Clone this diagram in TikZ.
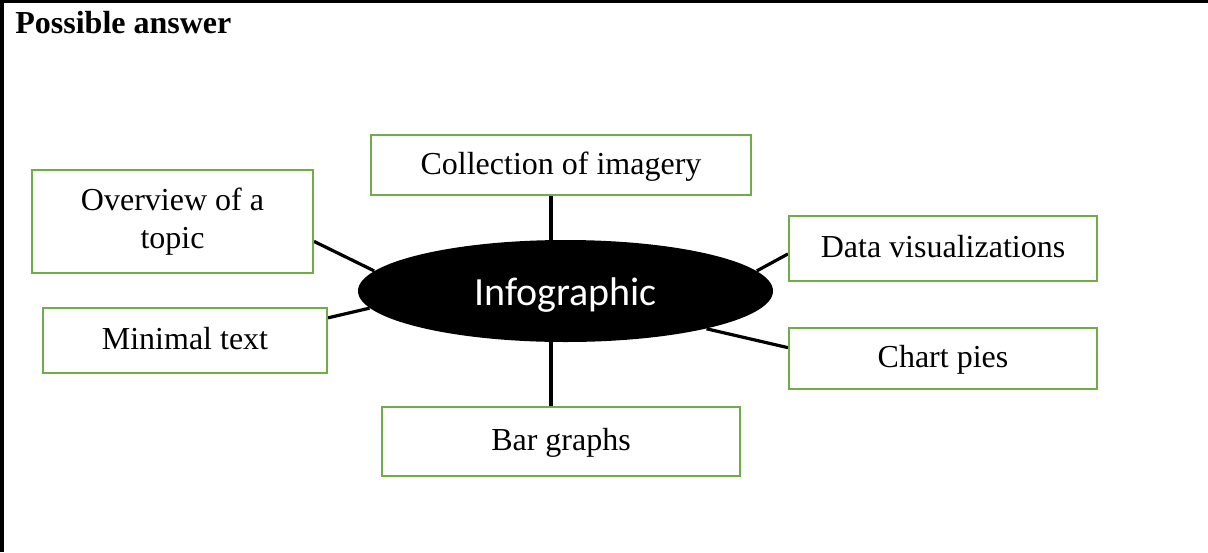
\documentclass[tikz,border=0pt]{standalone}
\usepackage{fontspec}
\setmainfont{Liberation Serif}
\newfontfamily\hubfont{Carlito}
\usepackage{tikz}
\usetikzlibrary{shapes.geometric,backgrounds}
\definecolor{boxgreen}{HTML}{70AD47}

\begin{document}
\begin{tikzpicture}[x=0.5pt,y=-0.5pt,
  topicbox/.style={draw=boxgreen,line width=1pt,align=center,font=\fontsize{16}{19}\selectfont},
  oneline/.style={text height=11.5pt,text depth=2.5pt},
  spoke/.style={line width=1.6pt}]

\useasboundingbox (0,0) rectangle (1208,552);

%Frame and heading
\draw[line width=1.75pt] (2,552) -- (2,1.5) -- (1208,1.5);
\node[anchor=base west,inner sep=0pt,font=\bfseries\fontsize{16}{19}\selectfont] (title) at (15,33) {Possible answer};

%Central ellipse
\node[ellipse,fill=black,minimum width=207.5pt,minimum height=51pt,text=white,text height=14pt,text depth=0pt,font=\hubfont\fontsize{20}{24}\selectfont] (info) at (565.5,291) {Infographic};

%Topic boxes
\node[topicbox,oneline,minimum width=190pt,minimum height=30pt] (collect) at (561,165) {Collection of imagery};
\node[topicbox,minimum width=140.5pt,minimum height=51.5pt] (overview) at (172.5,221.5) {Overview of a\\topic};
\node[topicbox,oneline,minimum width=142pt,minimum height=32.5pt] (minimal) at (185,340.5) {Minimal text};
\node[topicbox,oneline,minimum width=154pt,minimum height=32.5pt] (datavis) at (943,248.5) {Data visualizations};
\node[topicbox,oneline,minimum width=154pt,minimum height=30.5pt] (chart) at (943,358.5) {Chart pies};
\node[topicbox,oneline,minimum width=179pt,minimum height=34.5pt] (bar) at (561,441.5) {Bar graphs};

%Spokes, kept behind the ellipse
\begin{scope}[on background layer]
\draw[spoke] ([xshift=-5pt]collect.south) -- ([xshift=-5pt]collect.south |- info.center);
\draw[spoke] ([xshift=-5pt]bar.north) -- ([xshift=-5pt]bar.north |- info.center);
\draw[spoke] (overview.-8.7) -- (info.174.8);
\draw[spoke] (minimal.9.5) -- (info.-175.2);
\draw[spoke] (datavis.182.4) -- (info.6.65);
\draw[spoke] (chart.176.8) -- (info.-15.5);
\end{scope}
\end{tikzpicture}
\end{document}
